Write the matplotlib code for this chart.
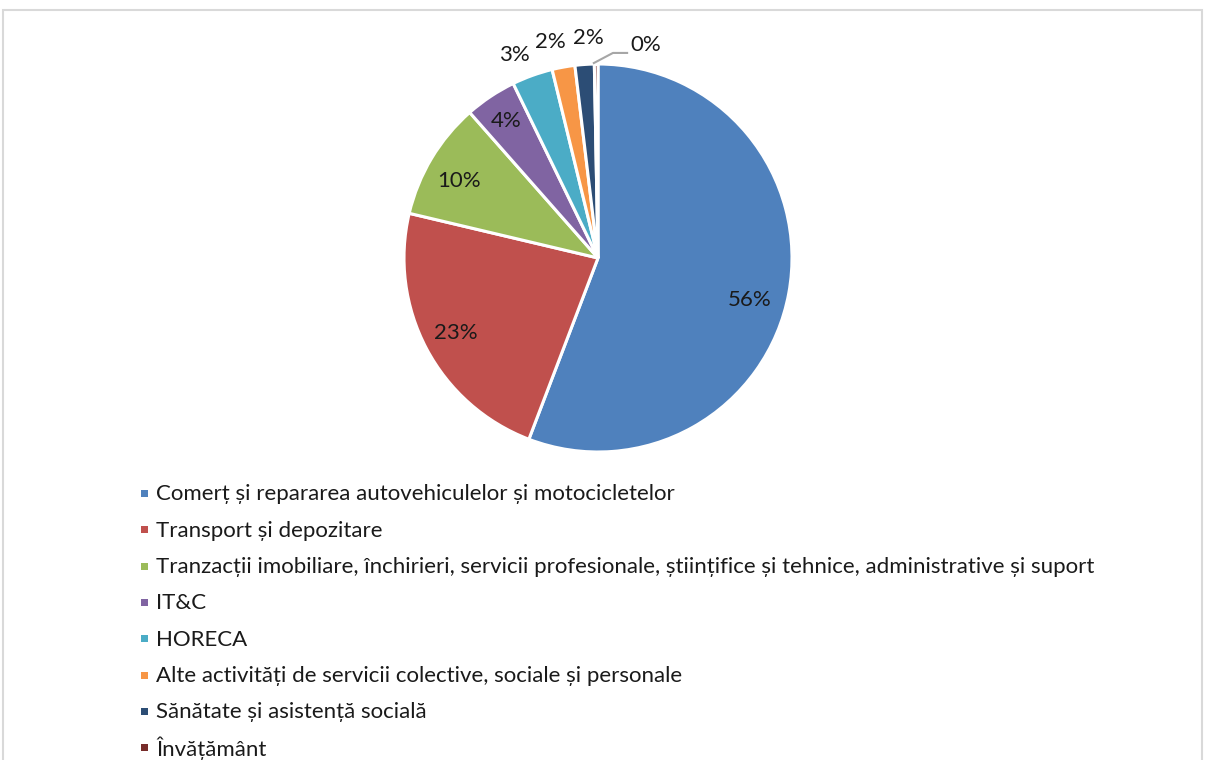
import numpy as np
import matplotlib
matplotlib.use("Agg")
import matplotlib.pyplot as plt
from matplotlib.patches import Rectangle

plt.rcParams['font.family'] = ['Lato', 'DejaVu Sans']

categories = [
    "Comerț și repararea autovehiculelor și motocicletelor",
    "Transport și depozitare",
    "Tranzacții imobiliare, închirieri, servicii profesionale, științifice și tehnice, administrative și suport",
    "IT&C",
    "HORECA",
    "Alte activități de servicii colective, sociale și personale",
    "Sănătate și asistență socială",
    "Învățământ",
]
values = [55.8, 22.9, 9.8, 4.3, 3.4, 1.9, 1.6, 0.3]
pct_labels = ["56%", "23%", "10%", "4%", "3%", "2%", "2%", "0%"]
colors = ["#4F81BD", "#C0504D", "#9BBB59", "#8064A2", "#4BACC6",
          "#F79646", "#2C4D75", "#772C2A"]

W, H = 1205, 760
fig = plt.figure(figsize=(W / 100, H / 100), dpi=100)

# outer frame
fig.patches.append(Rectangle((3 / W, -0.05), (1202 - 3) / W, (760 - 10) / H + 0.05,
                             transform=fig.transFigure, fill=False,
                             edgecolor="#D9D9D9", linewidth=1.5))

cx, cy, r = 598, 258, 194
ax = fig.add_axes([(cx - r) / W, (H - cy - r) / H, 2 * r / W, 2 * r / H])
wedges, _ = ax.pie(values, colors=colors, startangle=90, counterclock=False,
                   radius=1.0, wedgeprops=dict(edgecolor="white", linewidth=2.2))
ax.set_xlim(-1, 1)
ax.set_ylim(-1, 1)
ax.set_aspect('auto')
ax.axis('off')

# label placement (radial distance, angle nudge in degrees)
label_dist = [0.81, 0.83, 0.82, 0.85, 1.13, 1.14, 1.135]
label_nudge = [-5, 0, 2, 0, 2.6, 2.3, -1.4]
txt_color = '#1a1a1a'
for i, w in enumerate(wedges):
    mid = (w.theta1 + w.theta2) / 2
    if i < 7:
        ang = np.deg2rad(mid + label_nudge[i])
        d = label_dist[i]
        ax.text(d * np.cos(ang), d * np.sin(ang), pct_labels[i], ha='center',
                va='center', fontsize=16, color=txt_color, clip_on=False)
    else:
        ang = np.deg2rad(mid)
        x0, y0 = np.cos(ang), np.sin(ang)
        ax.plot([x0 - 0.012, 0.077, 0.15], [y0 + 0.005, 1.057, 1.057],
                color='#A6A6A6', lw=1.5, clip_on=False)
        ax.text(0.165, 1.10, pct_labels[i], ha='left', va='center', fontsize=16,
                color=txt_color, clip_on=False)

# legend
leg_y0, leg_dy = 492.5, 36.3
sq = 7
for i, (c, lab) in enumerate(zip(colors, categories)):
    yc = leg_y0 + i * leg_dy
    fig.patches.append(Rectangle((141 / W, (H - yc - 1 - sq / 2) / H), sq / W, sq / H,
                                 transform=fig.transFigure, facecolor=c,
                                 edgecolor='none'))
    fig.text(156 / W, (H - yc) / H, lab, ha='left', va='center_baseline',
             fontsize=16, color=txt_color)

fig.savefig("out.png", dpi=100)
